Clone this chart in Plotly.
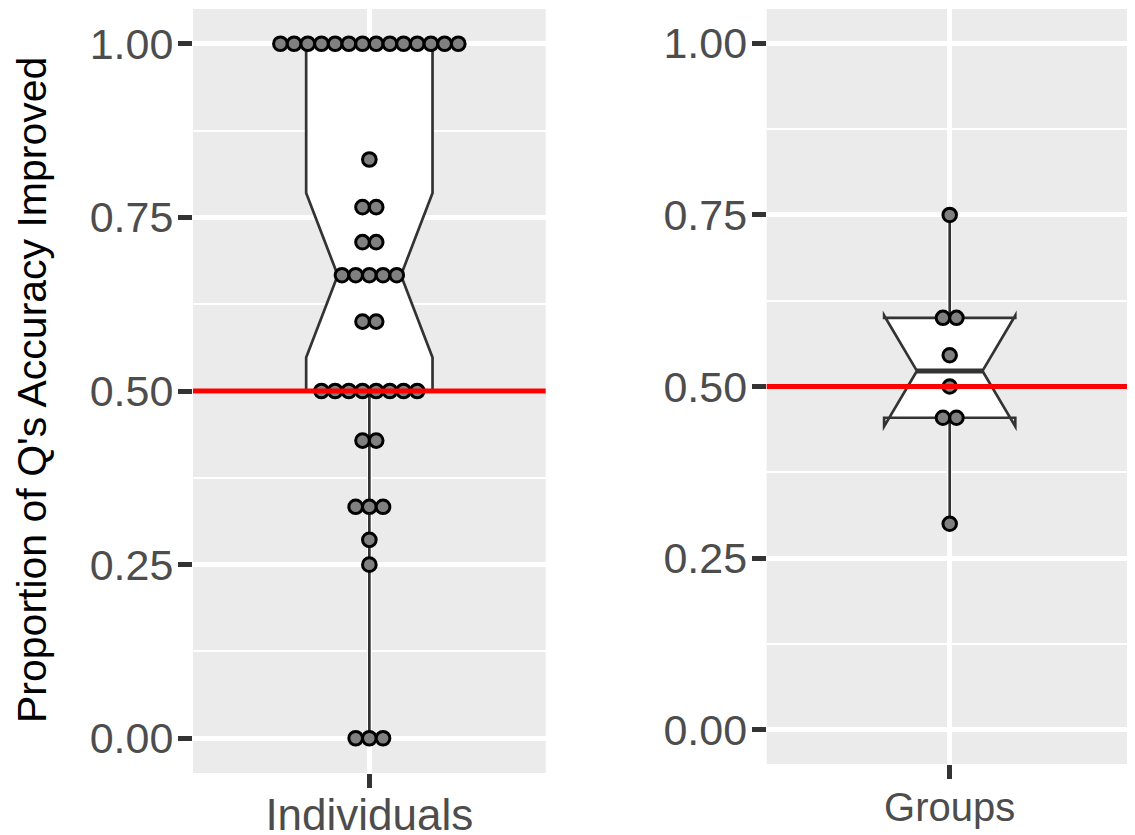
import numpy as np
import plotly.graph_objects as go

# ---------------- data ----------------
individuals = ([0.0] * 3 + [0.25] + [0.2857] + [0.3333] * 3 + [0.4286] * 2 +
               [0.5] * 8 + [0.6] * 2 + [0.6667] * 5 + [0.7143] * 2 +
               [0.7647] * 2 + [0.8333] + [1.0] * 14)
groups = [0.3, 0.4545, 0.4545, 0.5, 0.5455, 0.6, 0.6, 0.75]
categories = ["Individuals", "Groups"]
chance_level = 0.5
y_ticks = [0.0, 0.25, 0.5, 0.75, 1.0]
y_title = "Proportion of Q's Accuracy Improved"

# ---------------- style ----------------
PAGE_OFF = 8                      # browser body margin
FIG_W, FIG_H = 1135 - PAGE_OFF, 835 - PAGE_OFF
FONT = "Liberation Sans, Arial, Helvetica, sans-serif"
PANEL_BG = "#EBEBEB"
LINE_C = "#333333"
TEXT_C = "#4D4D4D"
X_RANGE = [0.4, 1.6]
Y_RANGE = [-0.05, 1.05]
BOX_W = 0.43
NOTCH_W = 0.25          # plotly notch fraction (ggplot notchwidth 0.5)
BINWIDTH = 0.0197


def px_x(v):
    return (v - PAGE_OFF) / FIG_W


def px_y(v):
    return 1 - (v - PAGE_OFF) / FIG_H


x1_dom = [px_x(193), px_x(545.7)]
x2_dom = [px_x(766.7), px_x(1132.7)]
y1_dom = [px_y(773), px_y(9)]
y2_dom = [px_y(764), px_y(9)]


def stacked(values, xdom, ydom):
    px_per_x = (xdom[1] - xdom[0]) * FIG_W / (X_RANGE[1] - X_RANGE[0])
    px_per_y = (ydom[1] - ydom[0]) * FIG_H / (Y_RANGE[1] - Y_RANGE[0])
    spacing_px = BINWIDTH * px_per_y
    dx = spacing_px / px_per_x
    uniq, counts = np.unique(np.array(values), return_counts=True)
    xs, ys = [], []
    for v, k in zip(uniq, counts):
        for j in range(k):
            xs.append(1 + (j - (k - 1) / 2) * dx)
            ys.append(v)
    return xs, ys, spacing_px


fig = go.Figure()

panels = [
    (individuals, "x", "y", x1_dom, y1_dom),
    (groups, "x2", "y2", x2_dom, y2_dom),
]

for vals, xa, ya, xdom, ydom in panels:
    fig.add_trace(go.Box(
        y=vals, x0=1, width=BOX_W, notched=True, notchwidth=NOTCH_W,
        boxpoints=False, whiskerwidth=0, quartilemethod="inclusive",
        fillcolor="white", line=dict(color=LINE_C, width=2.7),
        xaxis=xa, yaxis=ya, hoverinfo="skip", showlegend=False,
    ))
    med = float(np.median(vals))
    half_n = BOX_W / 2 * (1 - 2 * NOTCH_W)
    fig.add_trace(go.Scatter(
        x=[1 - half_n, 1 + half_n], y=[med, med], mode="lines",
        line=dict(color=LINE_C, width=5), xaxis=xa, yaxis=ya,
        hoverinfo="skip", showlegend=False,
    ))
    xs, ys, sp = stacked(vals, xdom, ydom)
    fig.add_trace(go.Scatter(
        x=xs, y=ys, mode="markers",
        marker=dict(size=sp, color="#808080", line=dict(color="black", width=3)),
        xaxis=xa, yaxis=ya, hoverinfo="skip", showlegend=False, cliponaxis=False,
    ))

for xref in ["x domain", "x2 domain"]:
    yref = "y" if xref == "x domain" else "y2"
    fig.add_shape(type="line", xref=xref, yref=yref, x0=0, x1=1,
                  y0=chance_level, y1=chance_level,
                  line=dict(color="#FF0000", width=5), layer="above")

xaxis_common = dict(
    range=X_RANGE, tickvals=[1], showgrid=True, gridcolor="white", gridwidth=4.5,
    zeroline=False, showline=False, ticks="outside", ticklen=14, tickwidth=4.5,
    tickcolor=LINE_C, fixedrange=True, automargin=False,
)
yaxis_common = dict(
    range=Y_RANGE, tickvals=y_ticks, tickformat=".2f", showgrid=True,
    gridcolor="white", gridwidth=4.5, zeroline=False, showline=False,
    ticks="outside", ticklen=14, tickwidth=4.5, tickcolor=LINE_C,
    tickfont=dict(family=FONT, size=43, color=TEXT_C),
    minor=dict(dtick=0.125, tick0=0, showgrid=True, gridcolor="white",
               gridwidth=2.3, ticks=""),
    fixedrange=True, ticklabelstandoff=-4, automargin=False,
)

fig.update_layout(
    width=FIG_W, height=FIG_H,
    margin=dict(l=0, r=0, t=0, b=0, autoexpand=False),
    paper_bgcolor="white", plot_bgcolor=PANEL_BG,
    font=dict(family=FONT, color=TEXT_C),
    xaxis=dict(domain=x1_dom, anchor="y", ticktext=[categories[0]],
               tickfont=dict(family=FONT, size=44, color=TEXT_C),
               ticklabelstandoff=-11, **xaxis_common),
    xaxis2=dict(domain=x2_dom, anchor="y2", ticktext=[categories[1]],
                tickfont=dict(family=FONT, size=40, color=TEXT_C),
                ticklabelstandoff=-6, **xaxis_common),
    yaxis=dict(domain=y1_dom, anchor="x", **yaxis_common),
    yaxis2=dict(domain=y2_dom, anchor="x2", **yaxis_common),
    annotations=[dict(
        text=y_title, textangle=-90, xref="paper", yref="paper",
        x=px_x(32), y=px_y(390), xanchor="center", yanchor="middle",
        showarrow=False, font=dict(family=FONT, size=41, color="black"),
    )],
)

fig.write_html("out.html")
